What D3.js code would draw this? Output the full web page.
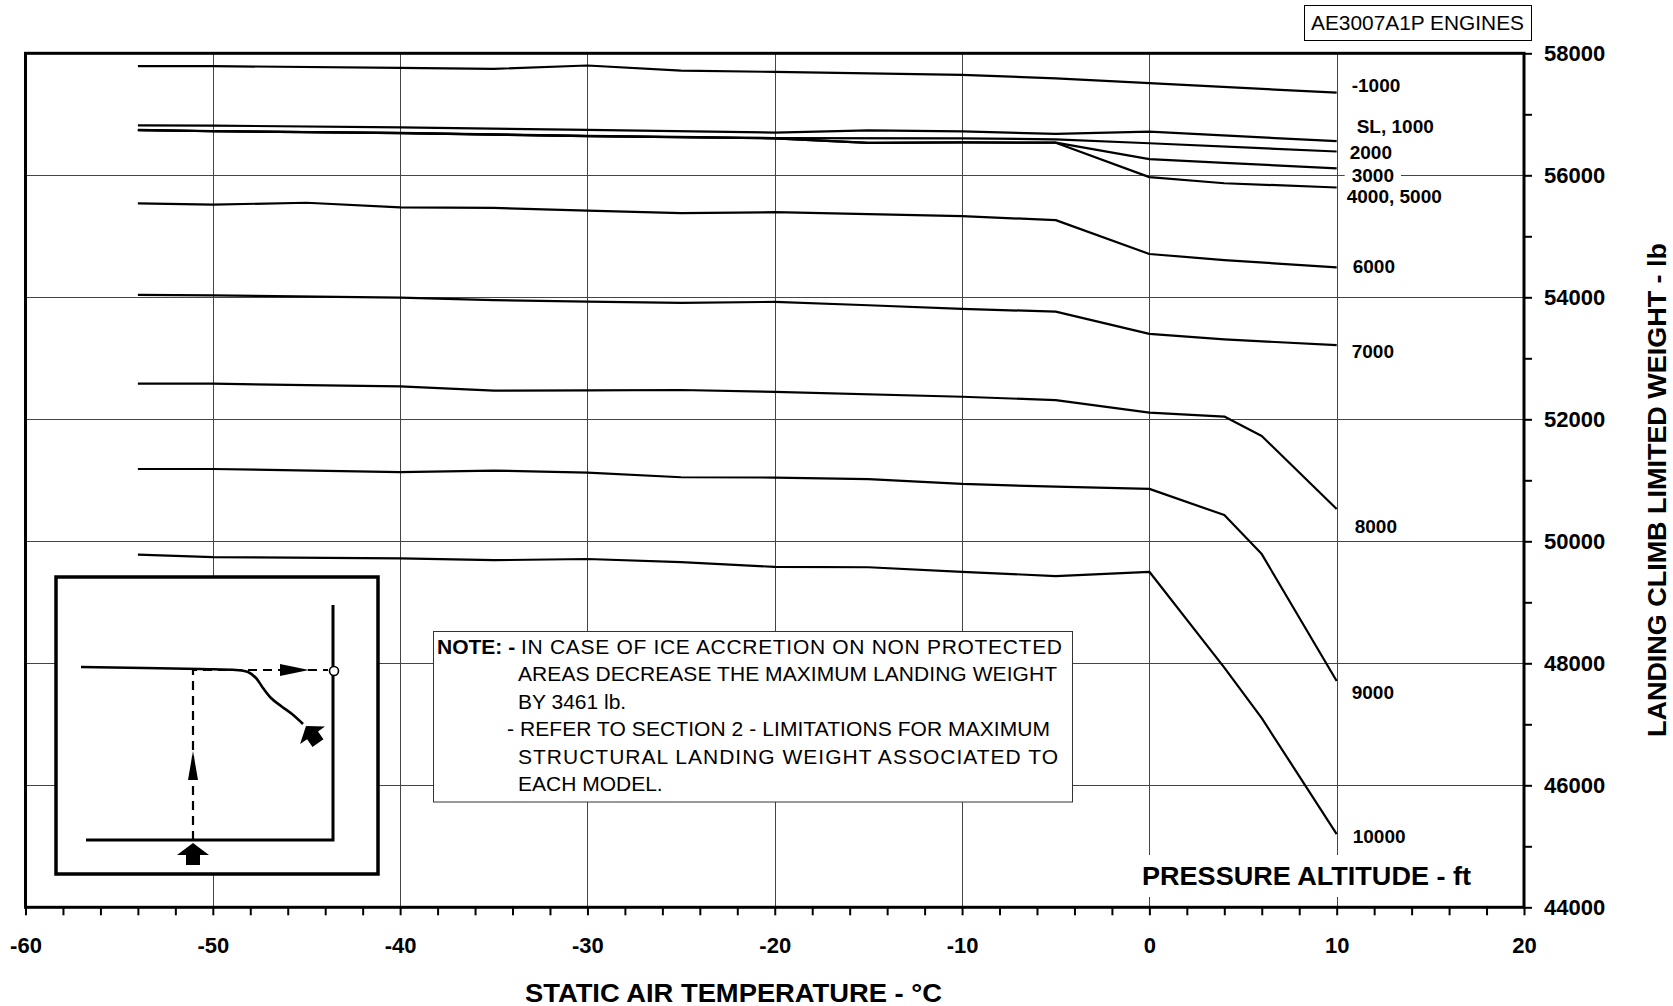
<!DOCTYPE html>
<html lang="en">
<head>
<meta charset="UTF-8">
<title>Landing Climb Limited Weight</title>
<script src="https://d3js.org/d3.v7.min.js"></script>
<style>
    body { margin: 0; background: #fff; }
    svg { display: block; font-family: "Liberation Sans", Arial, sans-serif; }
    .grid line { stroke: #444; stroke-width: 1; shape-rendering: crispEdges; }
    .curve { fill: none; stroke: #000; stroke-width: 2.2; stroke-linejoin: round; }
    .axis path { display: none; }
    .axis line { stroke: #000; stroke-width: 2; }
    .axis text { font-size: 22px; font-weight: bold; fill: #000; font-family: "Liberation Sans", Arial, sans-serif; }
    .alt-label { font-size: 19px; font-weight: bold; }
    .note { font-size: 21px; }
</style>
</head>
<body>
<div id="chart"></div>
<script>
    // axis ticks
    const tempTicks = d3.range(-60, 21, 2);
    const weightTicks = d3.range(44000, 58001, 1000);

    // curve names (pressure altitude - ft)
    const altitudeNames = ["-1000", "SL, 1000", "2000", "3000", "4000, 5000", "6000", "7000", "8000", "9000", "10000"];

    // [static air temperature °C, weight lb]
    const altMinus1000 = [[-54, 57790], [-50, 57790], [-40, 57760], [-35, 57745], [-30, 57800], [-25, 57715], [-20, 57695], [-10, 57645], [-5, 57590], [0, 57510], [10, 57355]];
    const altSL1000 = [[-54, 56820], [-50, 56815], [-40, 56785], [-30, 56745], [-20, 56700], [-15, 56735], [-10, 56720], [-5, 56680], [0, 56715], [10, 56560]];
    const alt2000 = [[-54, 56745], [-50, 56725], [-40, 56695], [-30, 56645], [-20, 56610], [-10, 56605], [-5, 56590], [0, 56525], [10, 56390]];
    const alt3000 = [[-54, 56740], [-50, 56722], [-40, 56690], [-30, 56642], [-20, 56605], [-15, 56530], [-10, 56540], [-5, 56535], [0, 56265], [4, 56205], [10, 56115]];
    const alt4000 = [[-54, 56740], [-50, 56722], [-40, 56690], [-30, 56642], [-20, 56605], [-15, 56530], [-10, 56540], [-5, 56535], [0, 55970], [4, 55870], [10, 55800]];
    const alt6000 = [[-54, 55540], [-50, 55520], [-45, 55550], [-40, 55475], [-35, 55465], [-30, 55420], [-25, 55380], [-20, 55395], [-10, 55330], [-5, 55265], [0, 54710], [4, 54610], [10, 54490]];
    const alt7000 = [[-54, 54040], [-50, 54030], [-40, 53995], [-35, 53955], [-30, 53930], [-25, 53910], [-20, 53925], [-15, 53870], [-10, 53810], [-5, 53765], [0, 53400], [4, 53310], [10, 53215]];
    const alt8000 = [[-54, 52585], [-50, 52585], [-45, 52560], [-40, 52540], [-35, 52470], [-30, 52475], [-25, 52480], [-20, 52450], [-10, 52370], [-5, 52315], [0, 52110], [4, 52045], [6, 51725], [10, 50530]];
    const alt9000 = [[-54, 51185], [-50, 51185], [-40, 51135], [-35, 51160], [-30, 51125], [-25, 51050], [-20, 51045], [-15, 51020], [-10, 50940], [-5, 50895], [0, 50860], [4, 50430], [6, 49790], [10, 47710]];
    const alt10000 = [[-54, 49780], [-50, 49740], [-40, 49720], [-35, 49690], [-30, 49710], [-25, 49660], [-20, 49580], [-15, 49575], [-10, 49500], [-5, 49430], [0, 49500], [4, 47930], [6, 47100], [10, 45200]];

    const noteLines = [
        "IN CASE OF ICE ACCRETION ON NON PROTECTED",
        "AREAS DECREASE THE MAXIMUM LANDING WEIGHT",
        "BY 3461 lb.",
        "- REFER TO SECTION 2 - LIMITATIONS FOR MAXIMUM",
        "STRUCTURAL LANDING WEIGHT ASSOCIATED TO",
        "EACH MODEL."
    ];

    const curves = [altMinus1000, altSL1000, alt2000, alt3000, alt4000, alt6000, alt7000, alt8000, alt9000, alt10000]
        .map((points, i) => ({ name: altitudeNames[i], points }));

    // layout
    const W = 1673, H = 1006;
    const plot = { left: 25.5, right: 1524, top: 53.3, bottom: 907.3 };
    // label offset from the curve end (px)
    const labelNudge = [[15, -1], [20, -7.8], [13, 7.5], [15, 13.4], [10, 15.8], [16, 5.5], [15, 12.7], [18, 24.3], [15, 18.4], [16, 9.3]];

    const svg = d3.select("#chart").append("svg")
        .attr("width", W)
        .attr("height", H);

    const x = d3.scaleLinear().domain([-60, 20]).range([plot.left, plot.right]);
    const y = d3.scaleLinear().domain([44000, 58000]).range([plot.bottom, plot.top]);

    // grid
    const grid = svg.append("g").attr("class", "grid");
    grid.selectAll(".v").data(d3.range(-50, 20, 10)).join("line")
        .attr("x1", d => Math.round(x(d)) + 0.5).attr("x2", d => Math.round(x(d)) + 0.5)
        .attr("y1", plot.top).attr("y2", plot.bottom);
    grid.selectAll(".h").data(d3.range(46000, 58000, 2000)).join("line")
        .attr("x1", plot.left).attr("x2", plot.right)
        .attr("y1", d => Math.round(y(d)) + 0.5).attr("y2", d => Math.round(y(d)) + 0.5);

    // frame
    svg.append("rect")
        .attr("x", plot.left).attr("y", plot.top)
        .attr("width", plot.right - plot.left).attr("height", plot.bottom - plot.top)
        .attr("fill", "none").attr("stroke", "#000").attr("stroke-width", 3);

    // axes
    svg.append("g").attr("class", "axis")
        .attr("transform", `translate(0, ${plot.bottom})`)
        .call(d3.axisBottom(x).tickValues(tempTicks).tickSize(8).tickPadding(22)
            .tickFormat(d => d % 10 === 0 ? String(d) : ""));

    svg.append("g").attr("class", "axis")
        .attr("transform", `translate(${plot.right}, 0)`)
        .call(d3.axisRight(y).tickValues(weightTicks).tickSize(8).tickPadding(12)
            .tickFormat(d => d % 2000 === 0 ? String(d) : ""));

    // "PRESSURE ALTITUDE - ft" sits on a white patch that cuts the grid
    svg.append("rect").attr("x", 1128).attr("y", 855).attr("width", 356).attr("height", 42).attr("fill", "#fff");
    svg.append("text")
        .attr("x", 1142).attr("y", 885)
        .attr("font-size", 26).attr("font-weight", "bold")
        .attr("textLength", 329).attr("lengthAdjust", "spacingAndGlyphs")
        .text("PRESSURE ALTITUDE - ft");

    // curves
    const line = d3.line().x(d => x(d[0])).y(d => y(d[1]));
    svg.append("g").selectAll("path").data(curves).join("path")
        .attr("class", "curve")
        .attr("d", d => line(d.points));

    // curve labels
    const labels = svg.append("g");
    curves.forEach((c, i) => {
        const end = c.points[c.points.length - 1];
        const g = labels.append("g");
        const t = g.append("text")
            .attr("class", "alt-label")
            .attr("x", x(end[0]) + labelNudge[i][0])
            .attr("y", y(end[1]) + labelNudge[i][1])
            .text(c.name);
        const b = t.node().getBBox();
        g.insert("rect", "text")
            .attr("x", b.x - 7).attr("y", b.y + 1)
            .attr("width", b.width + 14).attr("height", b.height - 2)
            .attr("fill", "#fff");
    });

    // axis titles
    svg.append("text")
        .attr("x", 733.5).attr("y", 1001.5)
        .attr("text-anchor", "middle")
        .attr("font-size", 26).attr("font-weight", "bold")
        .attr("textLength", 417).attr("lengthAdjust", "spacingAndGlyphs")
        .text("STATIC AIR TEMPERATURE - °C");

    svg.append("text")
        .attr("transform", "translate(1666, 490) rotate(-90)")
        .attr("text-anchor", "middle")
        .attr("font-size", 25).attr("font-weight", "bold")
        .attr("textLength", 494).attr("lengthAdjust", "spacingAndGlyphs")
        .text("LANDING CLIMB LIMITED WEIGHT - lb");

    // engine box
    svg.append("rect")
        .attr("x", 1304.5).attr("y", 5.5).attr("width", 227).attr("height", 35)
        .attr("fill", "#fff").attr("stroke", "#000").attr("stroke-width", 1);
    svg.append("text")
        .attr("x", 1311).attr("y", 30)
        .attr("font-size", 21)
        .attr("textLength", 213).attr("lengthAdjust", "spacingAndGlyphs")
        .text("AE3007A1P ENGINES");

    // note box
    svg.append("rect")
        .attr("x", 433.5).attr("y", 631.5).attr("width", 639).attr("height", 170.5)
        .attr("fill", "#fff").attr("stroke", "#333").attr("stroke-width", 1);
    svg.append("text")
        .attr("class", "note").attr("font-weight", "bold")
        .attr("x", 437).attr("y", 653.5)
        .text("NOTE: -");
    const noteX = [521, 518, 518, 507, 518, 518];
    const noteLen = [541, 539, null, 543, 540, null];
    noteLines.forEach((s, i) => {
        const t = svg.append("text")
            .attr("class", "note")
            .attr("x", noteX[i]).attr("y", 653.5 + i * 27.5)
            .text(s);
        if (noteLen[i]) t.attr("textLength", noteLen[i]).attr("lengthAdjust", "spacing");
    });

    // how-to-read inset (local px offsets inside the box)
    const inset = { x: 56, y: 577, w: 322, h: 297 };
    const ix = d3.scaleLinear().domain([0, inset.w]).range([inset.x, inset.x + inset.w]);
    const iy = d3.scaleLinear().domain([0, inset.h]).range([inset.y, inset.y + inset.h]);
    const iline = d3.line().x(d => ix(d[0])).y(d => iy(d[1]));
    const insetCurve = [[25, 90], [144, 92], [180, 93], [192, 95], [200, 101], [207, 111], [215, 121], [225, 129], [236, 137], [247, 147]];

    const ig = svg.append("g");
    ig.append("rect")
        .attr("x", inset.x).attr("y", inset.y).attr("width", inset.w).attr("height", inset.h)
        .attr("fill", "#fff").attr("stroke", "#000").attr("stroke-width", 3.5);
    ig.append("path").attr("d", iline([[30, 263], [277, 263], [277, 28]]))
        .attr("fill", "none").attr("stroke", "#000").attr("stroke-width", 3);
    ig.append("path").attr("d", iline.curve(d3.curveCatmullRom)(insetCurve))
        .attr("fill", "none").attr("stroke", "#000").attr("stroke-width", 2.6).attr("stroke-linejoin", "round");
    iline.curve(d3.curveLinear);
    ig.append("path").attr("d", iline([[137, 263], [137, 93], [272, 93]]))
        .attr("fill", "none").attr("stroke", "#000").attr("stroke-width", 2.2).attr("stroke-dasharray", "9,6");
    // thin arrowheads
    ig.append("path").attr("d", iline([[137, 174], [132, 203], [142, 203]]) + "Z").attr("fill", "#000");
    ig.append("path").attr("d", iline([[253, 93], [224, 87], [224, 99]]) + "Z").attr("fill", "#000");
    ig.append("circle").attr("cx", ix(278)).attr("cy", iy(94)).attr("r", 4.5)
        .attr("fill", "#fff").attr("stroke", "#000").attr("stroke-width", 1.6);
    // fat arrows
    const fat = [[0, 0], [16, 12], [7, 12], [7, 22], [-7, 22], [-7, 12], [-16, 12]];
    ig.append("path").attr("d", "M" + fat.join("L") + "Z")
        .attr("transform", `translate(${ix(137)}, ${iy(266)})`).attr("fill", "#000");
    ig.append("path").attr("d", "M" + fat.join("L") + "Z")
        .attr("transform", `translate(${ix(250)}, ${iy(149)}) rotate(-35) scale(0.95)`).attr("fill", "#000");
</script>
</body>
</html>
